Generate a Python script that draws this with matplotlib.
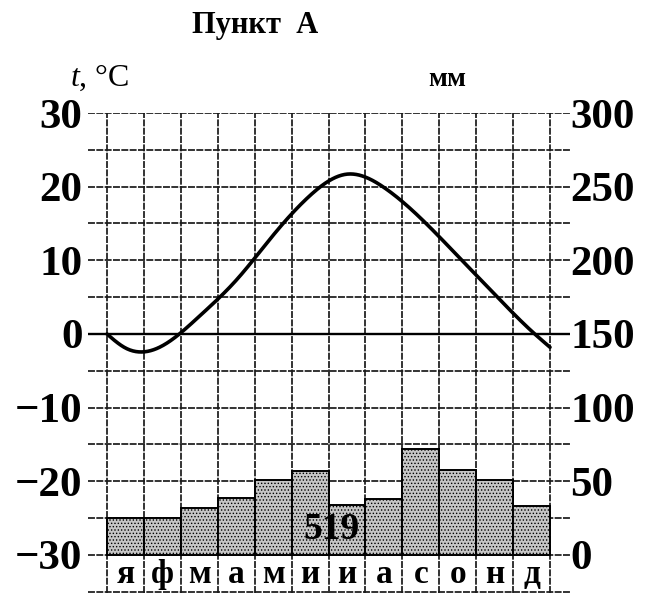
import numpy as np
import matplotlib
matplotlib.use("Agg")
import matplotlib.pyplot as plt

# ---------------- data ----------------
months = ["я", "ф", "м", "а", "м", "и", "и", "а", "с", "о", "н", "д"]
temp_mid = [-1.9, -1.6, 2.4, 7.3, 13.4, 18.8, 21.7, 19.9, 15.7, 10.6, 5.4, 0.4]  # °C, mid-month
temp_start = 0.0     # curve value at the start of January
temp_end = -1.8      # curve value at the end of December
precip = [25, 25, 32, 39, 51, 57, 34, 38, 72, 58, 51, 33]  # mm
precip_total = "519"
t_ticks = [30, 20, 10, 0, -10, -20, -30]
mm_ticks = [300, 250, 200, 150, 100, 50, 0]
title = "Пункт  А"

# ---------------- style ----------------
plt.rcParams['font.family'] = ['Liberation Serif', 'DejaVu Serif']
plt.rcParams['mathtext.fontset'] = 'custom'
plt.rcParams['mathtext.it'] = 'Liberation Serif:italic'
plt.rcParams['mathtext.rm'] = 'Liberation Serif'
plt.rcParams['hatch.color'] = '#8a8a8a'
plt.rcParams['hatch.linewidth'] = 0.6

W, H = 653, 593
fig = plt.figure(figsize=(W / 100, H / 100), dpi=100)
fig.patch.set_facecolor('white')

ax_left, ax_right, ax_top, ax_bottom = 88, 570, 113, 593
ax = fig.add_axes([ax_left / W, 1 - ax_bottom / H, (ax_right - ax_left) / W, (ax_bottom - ax_top) / H])
px_per_deg = (334 - 113) / 30.0
ymin = 30 - (ax_bottom - ax_top) / px_per_deg
px_per_month = (550 - 107) / 12.0
xmin = -(107 - ax_left) / px_per_month
xmax = (ax_right - 107) / px_per_month
ax.set_xlim(xmin, xmax)
ax.set_ylim(ymin, 30)

ax2 = ax.twinx()
ax2.set_ylim((ymin + 30) * 5, 300)

for a in (ax, ax2):
    for s in a.spines.values():
        s.set_visible(False)
    a.set_xticks([])

# grid
grid_kw = dict(color='#1a1a1a', lw=1.25, ls=(0, (4, 0.8)), zorder=1)
for y in np.arange(-35, 31, 5):
    if y == 0:
        continue
    ax.hlines(y, xmin, xmax, **grid_kw)
ax.vlines(np.arange(13), ymin, 30, **grid_kw)
ax.hlines(0, xmin, xmax, color='black', lw=1.7, zorder=4)

# precipitation bars
x = np.arange(12)
ax2.bar(x, precip, width=1.0, align='edge', bottom=0, color='#c6c6c6',
        edgecolor='black', linewidth=1.4, hatch='.....', zorder=2)
ax2.text(6.09, (-26.6 + 30) * 5, precip_total, ha='center', va='center',
         fontsize=27, fontweight='bold', zorder=5)

# temperature curve (natural cubic spline through the read points)
xp = np.concatenate([[0.0], x + 0.5, [12.0]])
yp = np.concatenate([[temp_start], temp_mid, [temp_end]])


def natural_spline(xk, yk, xs):
    n = len(xk)
    h = np.diff(xk)
    A = np.zeros((n, n))
    r = np.zeros(n)
    A[0, 0] = 1
    A[-1, -1] = 1
    for i in range(1, n - 1):
        A[i, i - 1] = h[i - 1]
        A[i, i] = 2 * (h[i - 1] + h[i])
        A[i, i + 1] = h[i]
        r[i] = 3 * ((yk[i + 1] - yk[i]) / h[i] - (yk[i] - yk[i - 1]) / h[i - 1])
    c = np.linalg.solve(A, r)
    b = (yk[1:] - yk[:-1]) / h - h * (2 * c[:-1] + c[1:]) / 3
    d = (c[1:] - c[:-1]) / (3 * h)
    idx = np.clip(np.searchsorted(xk, xs) - 1, 0, n - 2)
    dx = xs - xk[idx]
    return yk[idx] + b[idx] * dx + c[idx] * dx ** 2 + d[idx] * dx ** 3


xs = np.linspace(0, 12, 600)
ax.plot(xs, natural_spline(xp, yp, xs), color='black', lw=2.6, zorder=6,
        solid_capstyle='round')

# month labels
for i, m in enumerate(months):
    ax.text(i + 0.5, -33.75, m, ha='center', va='baseline', fontsize=24,
            fontweight='bold', zorder=5)

# axis tick labels
ax.set_yticks(t_ticks)
ax.set_yticklabels([str(v).replace('-', '\u2212') for v in t_ticks],
                   fontsize=31, fontweight='bold')
ax.tick_params(axis='y', length=0, pad=4)
ax2.set_yticks(mm_ticks)
ax2.set_yticklabels([str(v) for v in mm_ticks], fontsize=31, fontweight='bold')
ax2.tick_params(axis='y', length=0, pad=0)

# titles / units
fig.text(255 / W, 1 - 25 / H, title, ha='center', va='center', fontsize=22,
         fontweight='bold')
fig.text(70 / W, 1 - 86 / H, '$t$, °C', ha='left', va='baseline', fontsize=23)
fig.text(428 / W, 1 - 86 / H, 'мм', ha='left', va='baseline', fontsize=20,
         fontweight='bold')

fig.savefig('out.png', dpi=100, facecolor='white')
